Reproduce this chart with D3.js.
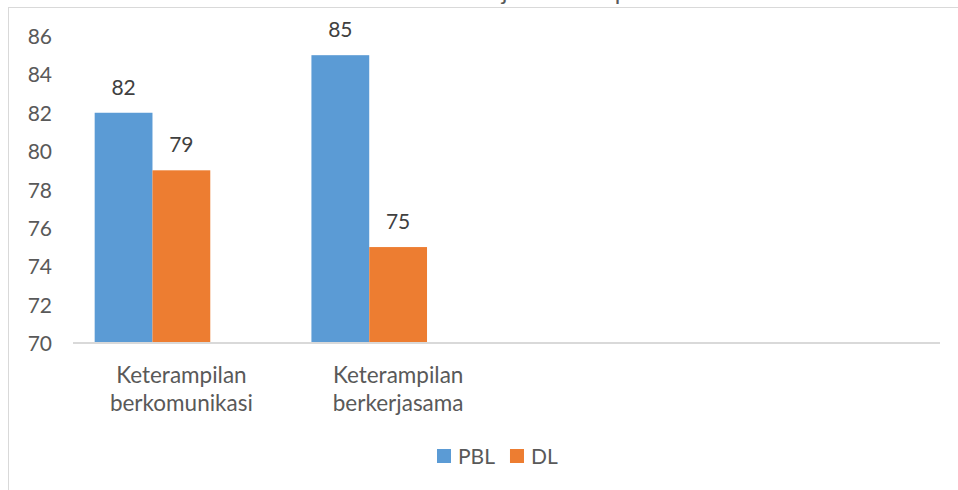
<!DOCTYPE html>
<html>
<head>
<meta charset="utf-8">
<script src="https://cdn.jsdelivr.net/npm/d3@7"></script>
<style>
  html, body { margin: 0; padding: 0; background: #fff; }
  svg { display: block; }
</style>
</head>
<body>
<svg id="chart" width="958" height="490"></svg>
<script>
// Chart data
const chartTitle = "Gambaran Hasil Kerja Keterampilan";
const categories = ["Keterampilan berkomunikasi", "Keterampilan berkerjasama", "", ""];
const seriesNames = ["PBL", "DL", ""];
const pblValues = [82, 85, null, null];
const dlValues = [79, 75, null, null];
const series3Values = [null, null, null, null];
const yTicks = [70, 72, 74, 76, 78, 80, 82, 84, 86];

const seriesValues = [pblValues, dlValues, series3Values];
const seriesColors = ["#5B9BD5", "#ED7D31", "#A5A5A5"];

const FONT = "Lato, 'Open Sans', sans-serif";
const svg = d3.select("#chart");

// Chart area frame
svg.append("rect")
  .attr("x", 8.5).attr("y", 7.5)
  .attr("width", 1000).attr("height", 600)
  .attr("fill", "#fff")
  .attr("stroke", "#D9D9D9").attr("stroke-width", 1);

// Title (sits above the frame, mostly beyond the top edge)
svg.append("text")
  .attr("x", 479).attr("y", -0.5)
  .attr("text-anchor", "middle")
  .attr("font-family", FONT).attr("font-size", 24)
  .attr("fill", "#595959")
  .text(chartTitle);

// Scales
const plot = { left: 73, right: 940, top: 36, bottom: 343 };
const y = d3.scaleLinear().domain([70, 86]).range([plot.bottom, plot.top]);
const x0 = d3.scaleBand().domain(d3.range(categories.length))
  .range([plot.left, plot.right]).padding(0);
const x1 = d3.scaleBand().domain(d3.range(seriesValues.length))
  .range([0, x0.bandwidth()]).paddingInner(0).paddingOuter(0.375);

// Y axis tick labels (no axis line, no gridlines)
const yAxis = d3.axisLeft(y).tickValues(yTicks).tickSize(0).tickPadding(0);
const yG = svg.append("g").attr("transform", "translate(52,0)").call(yAxis);
yG.select(".domain").remove();
yG.selectAll("text")
  .attr("font-family", FONT).attr("font-size", 21)
  .attr("fill", "#595959").attr("dy", "0.36em");

// Bars
const groups = svg.append("g").selectAll("g")
  .data(seriesValues).join("g")
  .attr("fill", (d, i) => seriesColors[i]);

groups.each(function(vals, si) {
  const bars = vals.map((v, ci) => ({ v, ci, si })).filter(d => d.v != null);
  d3.select(this).selectAll("rect").data(bars).join("rect")
    .attr("x", d => x0(d.ci) + x1(d.si))
    .attr("y", d => y(d.v))
    .attr("width", x1.bandwidth())
    .attr("height", d => y(70) - y(d.v));
  // Value labels
  d3.select(this).selectAll("text").data(bars).join("text")
    .attr("x", d => x0(d.ci) + x1(d.si) + x1.bandwidth() / 2)
    .attr("y", d => y(d.v) - 18)
    .attr("text-anchor", "middle")
    .attr("font-family", FONT).attr("font-size", 21)
    .attr("fill", "#404040")
    .text(d => d.v);
});

// X axis line and category labels
const xAxis = d3.axisBottom(x0).tickSize(0).tickPadding(0).tickFormat(() => "");
const xG = svg.append("g").attr("transform", `translate(0,${plot.bottom})`).call(xAxis);
xG.select(".domain").attr("stroke", "#D9D9D9").attr("stroke-width", 2)
  .attr("d", `M${plot.left},0H${plot.right}`);
xG.selectAll(".tick").each(function(ci) {
  const words = categories[ci].split(" ").filter(w => w.length);
  const t = d3.select(this).append("text")
    .attr("text-anchor", "middle")
    .attr("font-family", FONT).attr("font-size", 22.5)
    .attr("fill", "#595959");
  words.forEach((w, k) => {
    t.append("tspan").attr("x", 0).attr("y", 40 + k * 27.5).text(w);
  });
});

// Legend
const legendItems = seriesNames.map((name, i) => ({ name, color: seriesColors[i] }))
  .filter(d => d.name);
const legend = svg.append("g").attr("transform", "translate(437,449)");
let lx = 0;
legendItems.forEach(d => {
  const g = legend.append("g").attr("transform", `translate(${lx},0)`);
  g.append("rect").attr("width", 14).attr("height", 14).attr("fill", d.color);
  const t = g.append("text").attr("x", 21).attr("y", 7).attr("dy", "0.36em")
    .attr("font-family", FONT).attr("font-size", 21)
    .attr("fill", "#595959").text(d.name);
  lx += 21 + t.node().getComputedTextLength() + 15;
});
</script>
</body>
</html>
